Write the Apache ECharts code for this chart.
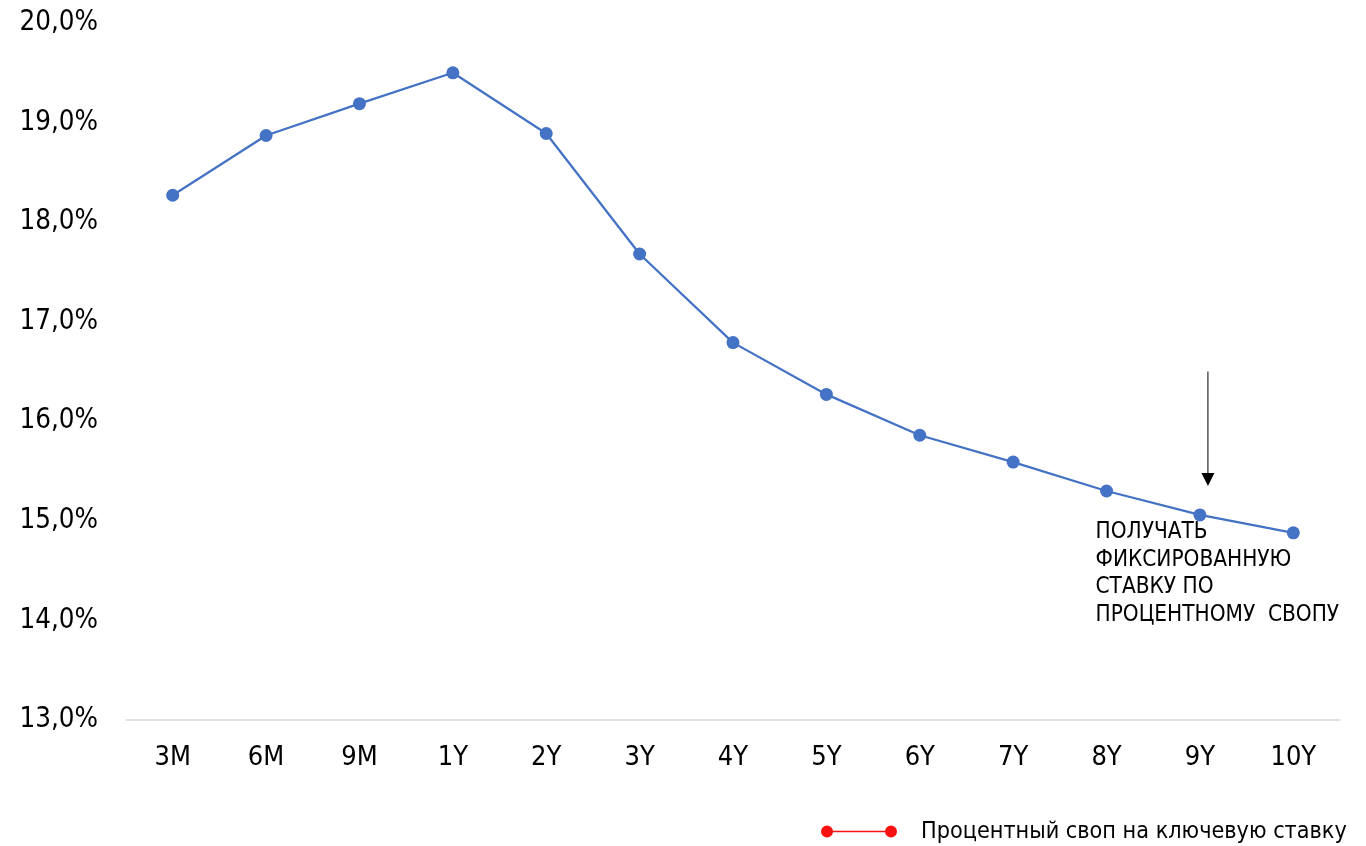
<!DOCTYPE html>
<html>
<head>
<meta charset="utf-8">
<script src="https://cdn.jsdelivr.net/npm/echarts@6/dist/echarts.min.js"></script>
<style>
html,body{margin:0;padding:0;background:#fff;}
#c{width:1366px;height:846px;}
</style>
</head>
<body>
<div id="c"></div>
<script>
const categories = ['3M','6M','9M','1Y','2Y','3Y','4Y','5Y','6Y','7Y','8Y','9Y','10Y'];
const swapRates = [18.27, 18.87, 19.19, 19.50, 18.89, 17.68, 16.79, 16.27, 15.86, 15.59, 15.30, 15.06, 14.88];
const seriesName = 'Процентный своп на ключевую ставку';
const annotationText = 'ПОЛУЧАТЬ\nФИКСИРОВАННУЮ\nСТАВКУ ПО\nПРОЦЕНТНОМУ  СВОПУ';
const arrowCategory = '9Y';
const arrowFrom = 16.5;
const arrowTo = 15.35;
const textCategory = '8Y';
const textValue = 15.1;

const FONT = '"DejaVu Sans Condensed", "DejaVu Sans", sans-serif';
const chart = echarts.init(document.getElementById('c'));

chart.setOption({
  animation: false,
  backgroundColor: '#ffffff',
  grid: { left: 126, right: 26, top: 23, bottom: 126, containLabel: false },
  xAxis: {
    type: 'category',
    data: categories,
    boundaryGap: true,
    axisTick: { show: false },
    axisLine: { show: true, lineStyle: { color: '#d9d9d9', width: 1.5 } },
    axisLabel: { color: '#000', fontFamily: FONT, fontSize: 27, margin: 24 },
    splitLine: { show: false }
  },
  yAxis: {
    type: 'value',
    min: 13, max: 20, interval: 1,
    axisLine: { show: false },
    axisTick: { show: false },
    splitLine: { show: false },
    axisLabel: {
      color: '#000', fontFamily: FONT, fontSize: 27.5, margin: 28,
      formatter: v => v.toFixed(1).replace('.', ',') + '%'
    }
  },
  legend: {
    left: 816, top: 815,
    itemWidth: 76, itemHeight: 12,
    data: [{
      name: seriesName,
      icon: 'path://M0,6A6,6,0,1,1,12,6A6,6,0,1,1,0,6Z M11,5.3L65,5.3L65,6.7L11,6.7Z M64,6A6,6,0,1,1,76,6A6,6,0,1,1,64,6Z',
      itemStyle: { color: '#ff1010' }
    }],
    textStyle: { color: '#000', fontFamily: FONT, fontSize: 23.2, padding: [0, 0, 0, 19] }
  },
  series: [{
    name: seriesName,
    type: 'line',
    data: swapRates,
    symbol: 'circle',
    symbolSize: 13,
    lineStyle: { color: '#4472C4', width: 2.25 },
    itemStyle: { color: '#4472C4' }
  }]
});

function addAnnotations() {
  const aTop = chart.convertToPixel({ gridIndex: 0 }, [arrowCategory, arrowFrom]);
  const aTip = chart.convertToPixel({ gridIndex: 0 }, [arrowCategory, arrowTo]);
  const tPos = chart.convertToPixel({ gridIndex: 0 }, [textCategory, textValue]);
  const ax = aTop[0] + 8;
  chart.setOption({
    graphic: [
      { type: 'line', shape: { x1: ax, y1: aTop[1], x2: ax, y2: aTip[1] - 12 },
        style: { stroke: '#000', lineWidth: 1 } },
      { type: 'polygon', shape: { points: [[ax - 6.5, aTip[1] - 13], [ax + 6.5, aTip[1] - 13], [ax, aTip[1]]] },
        style: { fill: '#000' } },
      { type: 'text', x: tPos[0] - 11, y: tPos[1] + 8,
        style: { text: annotationText, fill: '#000', font: '22.4px ' + FONT, lineHeight: 27.4, textVerticalAlign: 'top' } }
    ]
  });
}
addAnnotations();
</script>
</body>
</html>
